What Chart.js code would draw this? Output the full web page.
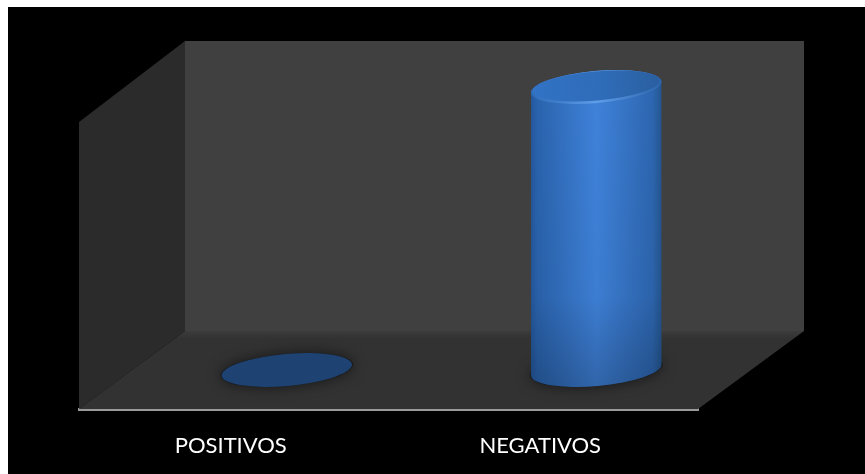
<!DOCTYPE html>
<html>
<head>
<meta charset="utf-8">
<title>Positivos / Negativos</title>
<script src="https://cdn.jsdelivr.net/npm/chart.js@4"></script>
<style>
  html, body { margin: 0; background: #fff; overflow: hidden; }
  #chart { position: absolute; left: 8px; top: 7px; background: #000; }
</style>
</head>
<body>
<canvas id="chart" width="857" height="467"></canvas>
<script>
const categories = ['POSITIVOS', 'NEGATIVOS'];
const values     = [0, 98.6];
const axisMax    = 100;

// ─────────────────────────────────────────────────────────────
// depth of the fake 3D box, the axis sits on its front edge
const DEPTH_X = 106;
const DEPTH_Y = 80;

function poly(ctx, pts, fill) {
  ctx.beginPath();
  pts.forEach((p, i) => i ? ctx.lineTo(p[0], p[1]) : ctx.moveTo(p[0], p[1]));
  ctx.closePath();
  ctx.fillStyle = fill;
  ctx.fill();
}

// walls and floor
const boxPlugin = {
  id: 'box',
  beforeDatasetsDraw(chart) {
    const { ctx, chartArea: a } = chart;
    const bx = a.left + DEPTH_X, tb = a.top - DEPTH_Y - 1, fb = a.bottom - 78;
    const floorFill = ctx.createLinearGradient(0, fb, 0, fb + 8);
    floorFill.addColorStop(0, '#3b3b3b');
    floorFill.addColorStop(1, '#323232');
    ctx.save();
    poly(ctx, [[bx, tb], [a.right + DEPTH_X, tb], [a.right + DEPTH_X, fb], [bx, fb]], '#404040');
    poly(ctx, [[a.left, a.top], [bx, tb], [bx, fb], [a.left, a.bottom]], '#2b2b2b');
    poly(ctx, [[a.left, a.bottom], [bx, fb], [a.right + DEPTH_X, fb], [a.right, a.bottom]], floorFill);
    ctx.restore();
  }
};

// ─────────────────────────────────────────────────────────────
const TILT = -5 * Math.PI / 180;
const RY   = 16;

function drawCylinder(ctx, cx, baseY, topY, rx) {
  const dx = rx * Math.cos(TILT), dy = rx * Math.sin(TILT);

  // soft shadow on the floor
  ctx.save();
  ctx.shadowColor = 'rgba(0,0,0,0.7)';
  ctx.shadowBlur = 14;
  ctx.fillStyle = 'rgba(20,20,20,0.8)';
  ctx.beginPath();
  ctx.ellipse(cx, baseY, rx + 1, RY, TILT, 0, Math.PI * 2);
  ctx.fill();
  ctx.restore();

  // flat disc for a zero value
  if (baseY - topY < 1) {
    ctx.fillStyle = '#1e4271';
    ctx.beginPath();
    ctx.ellipse(cx, baseY, rx, RY, TILT, 0, Math.PI * 2);
    ctx.fill();
    return;
  }

  // body
  const side = ctx.createLinearGradient(cx - rx, 0, cx + rx, 0);
  side.addColorStop(0,    '#23579c');
  side.addColorStop(0.05, '#2a63ad');
  side.addColorStop(0.5,  '#3f82da');
  side.addColorStop(0.93, '#2d66b0');
  side.addColorStop(1,    '#24558f');
  ctx.beginPath();
  ctx.ellipse(cx, baseY, rx, RY, TILT, 0, Math.PI);
  ctx.lineTo(cx - dx, topY - dy);
  ctx.ellipse(cx, topY, rx, RY, TILT, Math.PI, Math.PI * 2);
  ctx.closePath();
  ctx.fillStyle = side;
  ctx.fill();

  // gets darker towards the floor
  const shade = ctx.createLinearGradient(0, topY, 0, baseY + RY);
  shade.addColorStop(0,   'rgba(0,0,0,0)');
  shade.addColorStop(0.7, 'rgba(0,0,0,0.04)');
  shade.addColorStop(1,   'rgba(0,0,0,0.22)');
  ctx.fillStyle = shade;
  ctx.fill();

  // rim with its light lower edge
  const rim = ctx.createLinearGradient(cx - rx, 0, cx + rx, 0);
  rim.addColorStop(0,   '#2f6cb9');
  rim.addColorStop(0.5, '#5f9de8');
  rim.addColorStop(1,   '#2d66ae');
  ctx.beginPath();
  ctx.ellipse(cx, topY, rx, RY, TILT, 0, Math.PI * 2);
  ctx.fillStyle = rim;
  ctx.fill();

  // lid, light on the left and dull on the right
  const lid = ctx.createLinearGradient(cx - rx, topY + 8, cx + rx, topY - 8);
  lid.addColorStop(0,   '#3273c6');
  lid.addColorStop(0.55, '#2f6cb8');
  lid.addColorStop(1,   '#2a5f9f');
  ctx.beginPath();
  ctx.ellipse(cx, topY - 1, rx - 1.5, RY - 1.5, TILT, 0, Math.PI * 2);
  ctx.fillStyle = lid;
  ctx.fill();
}

// the bars themselves stay transparent, their geometry gives the cylinders
const cylinderPlugin = {
  id: 'cylinders',
  afterDatasetsDraw(chart) {
    const { ctx } = chart;
    chart.getDatasetMeta(0).data.forEach(bar => {
      const p = bar.getProps(['x', 'y', 'base', 'width'], true);
      const shiftX = DEPTH_X / 2, shiftY = 39;
      ctx.save();
      drawCylinder(ctx, p.x + shiftX, p.base - shiftY, p.y - shiftY, p.width / 2);
      ctx.restore();
    });
  }
};

// ─────────────────────────────────────────────────────────────
new Chart(document.getElementById('chart').getContext('2d'), {
  type: 'bar',
  data: {
    labels: categories,
    datasets: [{
      data: values,
      backgroundColor: 'rgba(0,0,0,0)',
      borderWidth: 0,
      categoryPercentage: 1,
      barPercentage: 0.423
    }]
  },
  options: {
    responsive: false,
    animation: false,
    layout: { padding: { left: 71, right: 167, top: 115, bottom: 0 } },
    plugins: { legend: { display: false }, tooltip: { enabled: false } },
    scales: {
      x: {
        afterFit: s => { s.height = 65; },
        grid: { display: false },
        border: { display: true, color: '#9a9a9a', width: 3 },
        ticks: {
          color: '#ffffff',
          padding: 16,
          labelOffset: -3,
          maxRotation: 0,
          font: { family: 'Lato', size: 22 }
        }
      },
      y: {
        display: false,
        min: 0,
        max: axisMax
      }
    }
  },
  plugins: [boxPlugin, cylinderPlugin]
});
</script>
</body>
</html>
